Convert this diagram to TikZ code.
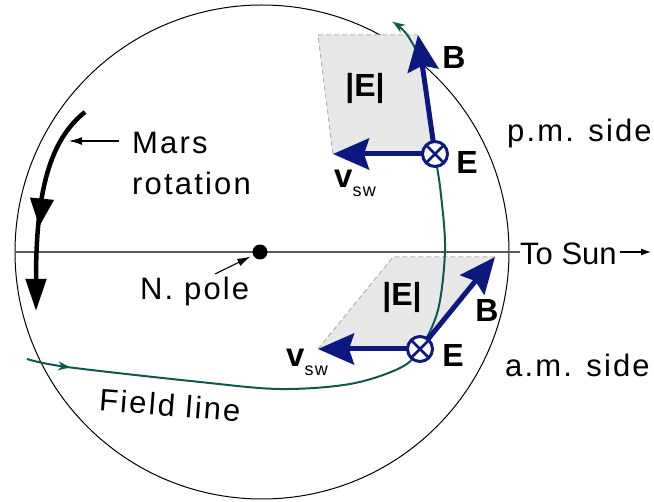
\documentclass[tikz,border=0pt]{standalone}
\usepackage{fontspec}
\setmainfont{Liberation Sans}
\newfontfamily\lblfont[LetterSpace=7]{Liberation Sans}
\usetikzlibrary{arrows.meta,decorations.markings}
\definecolor{navy}{RGB}{12,24,128}
\definecolor{fieldc}{RGB}{14,88,78}
\definecolor{boxgray}{RGB}{232,232,232}
\definecolor{dashc}{RGB}{180,180,180}
\newcommand\vswlabel{{\fontsize{33}{34}\selectfont\bfseries v}\raisebox{-9pt}{\lblfont\fontsize{18}{20}\selectfont sw}}
\begin{document}
\begin{tikzpicture}[x=1pt,y=-1pt,
  lbl/.style={font=\lblfont\fontsize{31}{34}\selectfont, inner sep=0pt},
  bld/.style={font=\fontsize{32}{34}\selectfont\bfseries, inner sep=0pt},
  barrow/.style={draw=navy, line width=5pt, -{Stealth[length=36pt,width=31pt,inset=5pt]}},
  ecirc/.style={circle, draw=navy, fill=white, line width=3pt, minimum size=25pt, inner sep=0pt, outer sep=0pt},
  thinarrow/.style={draw=black, line width=1.1pt, -{Latex[length=13pt,width=8pt]}},
  fline/.style={draw=fieldc, line width=2pt},
  boxfill/.style={fill=boxgray, draw=none},
  dashedge/.style={draw=dashc, line width=1pt, dash pattern=on 5pt off 3pt},
]
\useasboundingbox (0,0) rectangle (654,502);

% planet disc and sun line
\node[circle, draw, line width=1pt, minimum size=494pt, inner sep=0pt] (mars) at (262,252) {};
\node[font=\fontsize{31}{34}\selectfont, inner sep=0pt, anchor=base west] (sun) at (520,265) {To Sun};
\draw[line width=1.2pt, draw=black!65] (mars.west) -- (mars.west -| sun.west);
\coordinate (sunEnd) at (651,252);
\draw[draw=black, line width=1.1pt, -{Latex[length=10pt,width=7pt]}, shorten <=3pt] (sun.east |- mars.center) -- (sunEnd);

% pole
\node[circle, fill=black, minimum size=15pt, inner sep=0pt] (pole) at (260,252) {};
\node[lbl, anchor=base west] (npole) at (140,300) {N. pole};
\coordinate (npA) at (215,274);
\draw[thinarrow, shorten >=3pt] (npA) -- (pole);

% rotation arrow
\coordinate (rotS) at (85,112);
\coordinate (rotE) at (36,311);
\draw[line width=4.5pt, -{Triangle[length=32pt,width=20pt]},
  postaction={decorate},
  decoration={markings, mark=at position 0.6 with {\arrow{Triangle[length=28pt,width=23pt]}}}]
  (rotS) .. controls (50,140) and (36,190) .. (rotE);
\node[lbl, anchor=base west] (mars1) at (132,154) {Mars};
\node[lbl, anchor=base west] (mars2) at (132,195) {rotation};
\coordinate (rotPt) at (69,141);
\draw[thinarrow, shorten <=13pt] (mars1.west |- rotPt) -- (rotPt);

% shaded parallelograms
\coordinate (e1) at (435,154); \coordinate (b1) at (418,35);
\coordinate (v1) at (333,154); \coordinate (c1) at (318,35);
\coordinate (e2) at (420,349); \coordinate (b2) at (495,257);
\coordinate (v2) at (318,349); \coordinate (c2) at (393,257);
\fill[boxfill] (e1) -- (v1) -- (c1) -- (b1) -- cycle;
\draw[dashedge] (v1) -- (c1) -- (b1);
\fill[boxfill] (e2) -- (v2) -- (c2) -- (b2) -- cycle;
\draw[dashedge] (v2) -- (c2) -- (b2);

% field line
\draw[fline, -{Stealth[length=12pt,width=9pt]},
  postaction={decorate},
  decoration={markings, mark=at position 44pt with {\arrow{Stealth[length=12pt,width=9pt]}}}]
  plot[smooth, tension=0.55] coordinates {(27,359) (67,367) (200,382) (280,389) (350,384) (400,368) (420,349) (438,310) (445,250) (441,195) (435,154) (421,67) (408,36) (393,22)};
\node[lbl, rotate=-4.5] (fl) at (170,405) {Field line};

% upper vectors
\node[ecirc] (E1) at (e1) {};
\draw[barrow] (E1) -- (b1);
\draw[barrow] (E1) -- (v1);
\draw[navy, line width=2.5pt] (E1.north west) -- (E1.south east) (E1.north east) -- (E1.south west);
\node[bld] (absE1) at (365,88) {|E|};
\node[bld] (lB1) at (454,57) {B};
\node[bld] (lE1) at (467,162) {E};
\node[anchor=base west, inner sep=0pt] (lv1) at (334,188) {\vswlabel};

% lower vectors
\node[ecirc] (E2) at (e2) {};
\draw[barrow] (E2) -- (b2);
\draw[barrow] (E2) -- (v2);
\draw[navy, line width=2.5pt] (E2.north west) -- (E2.south east) (E2.north east) -- (E2.south west);
\node[bld] (absE2) at (402,297) {|E|};
\node[bld] (lB2) at (487,310) {B};
\node[bld] (lE2) at (453,355) {E};
\node[anchor=base west, inner sep=0pt] (lv2) at (286,367) {\vswlabel};

% side labels
\node[lbl, anchor=base west] (pm) at (507,142) {p.m. side};
\node[lbl, anchor=base west] (am) at (505,377) {a.m. side};
\end{tikzpicture}
\end{document}
